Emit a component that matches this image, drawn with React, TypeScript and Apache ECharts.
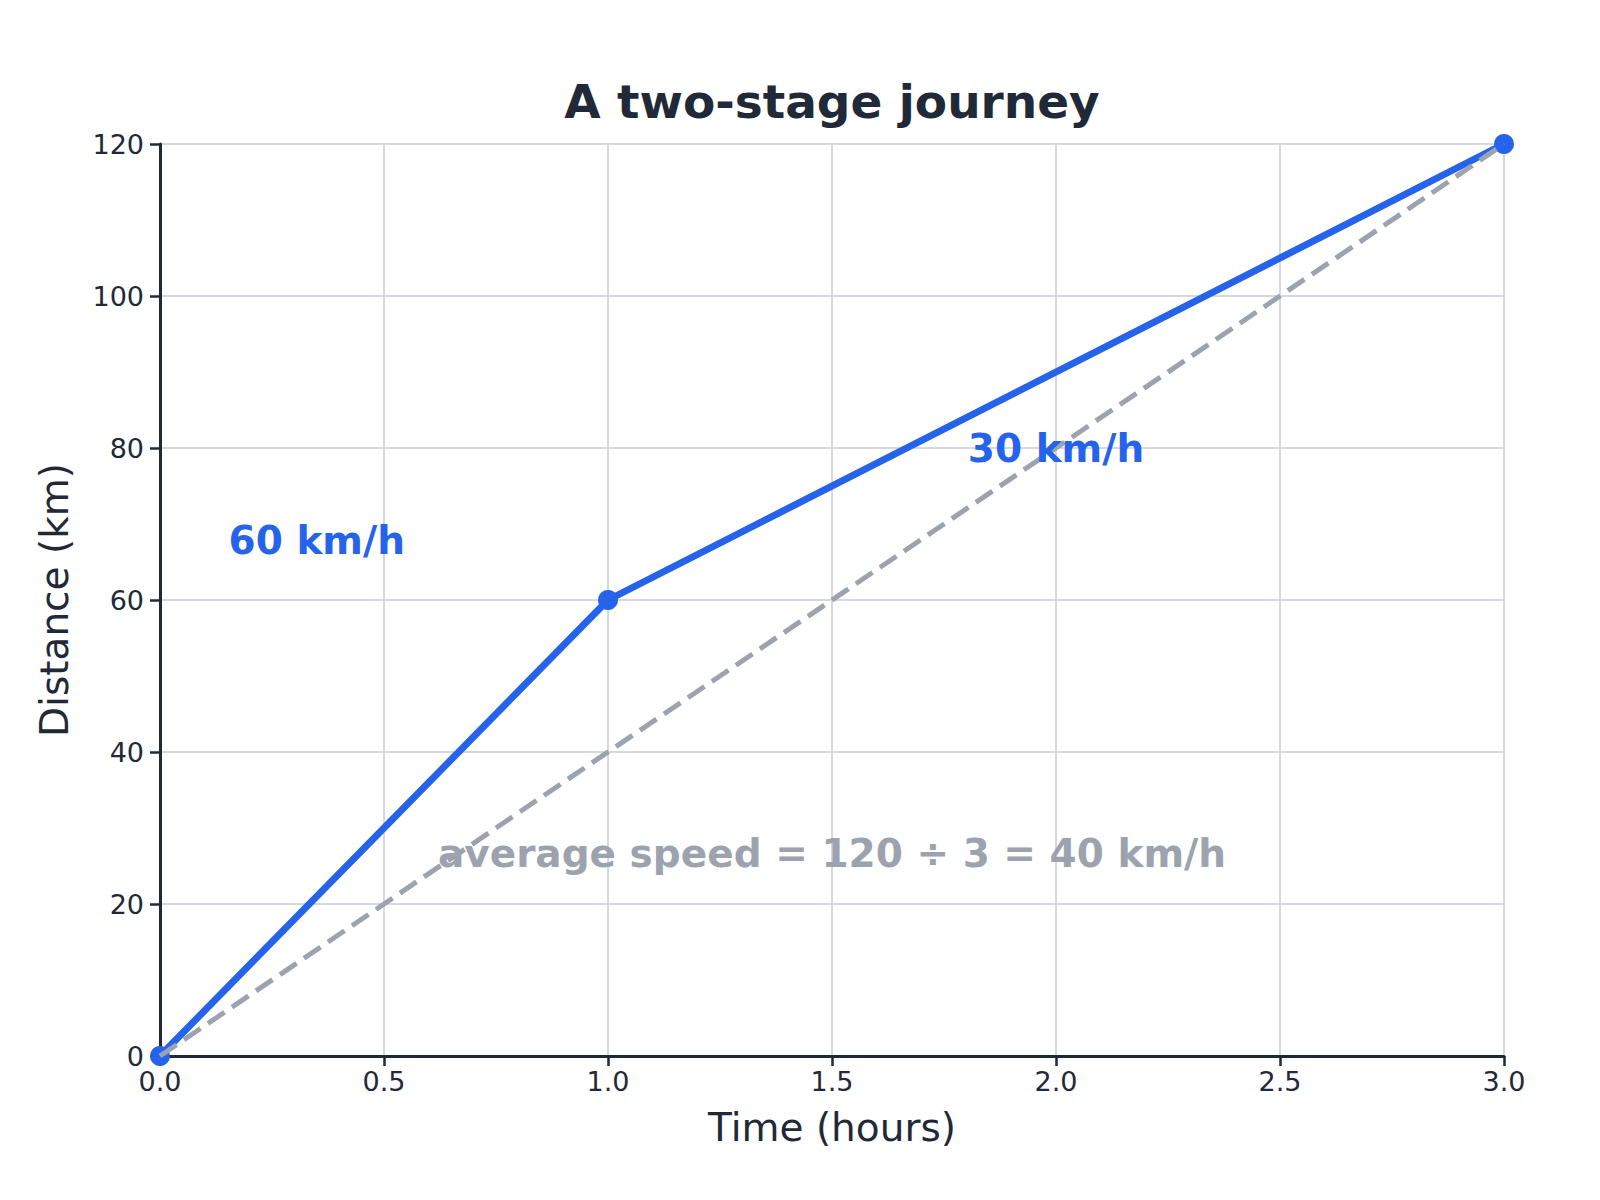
import { useEffect, useRef } from 'react';
import * as echarts from 'echarts';

// journey data: time (h) vs distance (km)
const journeyTimes = [0, 1, 3];
const journeyDistances = [0, 60, 120];
// straight average line from start to finish
const averageTimes = [0, 3];
const averageDistances = [0, 120];

const speedLabels = ['60 km/h', '30 km/h'];
const speedLabelTimes = [0.35, 2.0];
const speedLabelDistances = [67.8, 80];

const averageText = 'average speed = 120 ÷ 3 = 40 km/h';
const averageTextTime = 1.5;
const averageTextDistance = 26.6;

const FONT = 'DejaVu Sans';
const DARK = '#1f2937';
const BLUE = '#2563eb';
const GRAY = '#9ca3af';
const GRID = '#d5d8de';

const App = () => {
    const chartRef = useRef(null);

    useEffect(() => {
        document.body.style.margin = '0';
        const myChart = echarts.init(chartRef.current, null, { renderer: 'svg' });

        myChart.setOption({
            animation: false,
            title: {
                text: 'A two-stage journey',
                left: 827,
                textAlign: 'center',
                top: 73,
                textStyle: { fontFamily: FONT, fontSize: 47, fontWeight: 'bold', color: DARK },
            },
            grid: { left: 160, right: 96, top: 144, bottom: 144 },
            xAxis: {
                type: 'value',
                min: 0,
                max: 3,
                interval: 0.5,
                name: 'Time (hours)',
                nameLocation: 'middle',
                nameGap: 52,
                nameTextStyle: { fontFamily: FONT, fontSize: 39, color: DARK },
                axisLine: { show: true, onZero: false, lineStyle: { color: DARK, width: 3 } },
                axisTick: { show: true, length: 10, lineStyle: { color: DARK, width: 2.5 } },
                axisLabel: {
                    margin: 12,
                    fontFamily: FONT,
                    fontSize: 27,
                    color: DARK,
                    formatter: (v: number) => v.toFixed(1),
                },
                splitLine: { show: true, lineStyle: { color: GRID, width: 2 } },
            },
            yAxis: {
                type: 'value',
                min: 0,
                max: 120,
                interval: 20,
                name: 'Distance (km)',
                nameLocation: 'middle',
                nameGap: 86,
                nameTextStyle: { fontFamily: FONT, fontSize: 39, color: DARK },
                axisLine: { show: true, onZero: false, lineStyle: { color: DARK, width: 3 } },
                axisTick: { show: true, length: 10, lineStyle: { color: DARK, width: 2.5 } },
                axisLabel: { margin: 16, fontFamily: FONT, fontSize: 27, color: DARK },
                splitLine: { show: true, lineStyle: { color: GRID, width: 2 } },
            },
            series: [
                {
                    type: 'line',
                    data: journeyTimes.map((t, i) => [t, journeyDistances[i]]),
                    lineStyle: { color: BLUE, width: 7 },
                    itemStyle: { color: BLUE },
                    symbol: 'circle',
                    symbolSize: 20,
                    z: 2,
                },
                {
                    type: 'line',
                    data: averageTimes.map((t, i) => [t, averageDistances[i]]),
                    lineStyle: { color: GRAY, width: 5, type: [20, 9] },
                    showSymbol: false,
                    symbol: 'none',
                    z: 3,
                },
                {
                    type: 'scatter',
                    symbolSize: 0,
                    z: 4,
                    itemStyle: { opacity: 1 },
                    data: speedLabels.map((s, i) => ({
                        value: [speedLabelTimes[i], speedLabelDistances[i]],
                        label: { formatter: s },
                    })),
                    label: {
                        show: true,
                        position: 'inside',
                        fontFamily: FONT,
                        fontSize: 39,
                        fontWeight: 'bold',
                        color: BLUE,
                        opacity: 1,
                    },
                },
                {
                    type: 'scatter',
                    symbolSize: 0,
                    z: 4,
                    itemStyle: { opacity: 1 },
                    data: [{ value: [averageTextTime, averageTextDistance], label: { formatter: averageText } }],
                    label: {
                        show: true,
                        position: 'inside',
                        fontFamily: FONT,
                        fontSize: 39,
                        fontWeight: 'bold',
                        color: GRAY,
                        opacity: 1,
                    },
                },
            ],
        });

        return () => {
            myChart.dispose();
        };
    }, []);

    return <div ref={chartRef} style={{ width: '1600px', height: '1200px' }} />;
};

export default App;
